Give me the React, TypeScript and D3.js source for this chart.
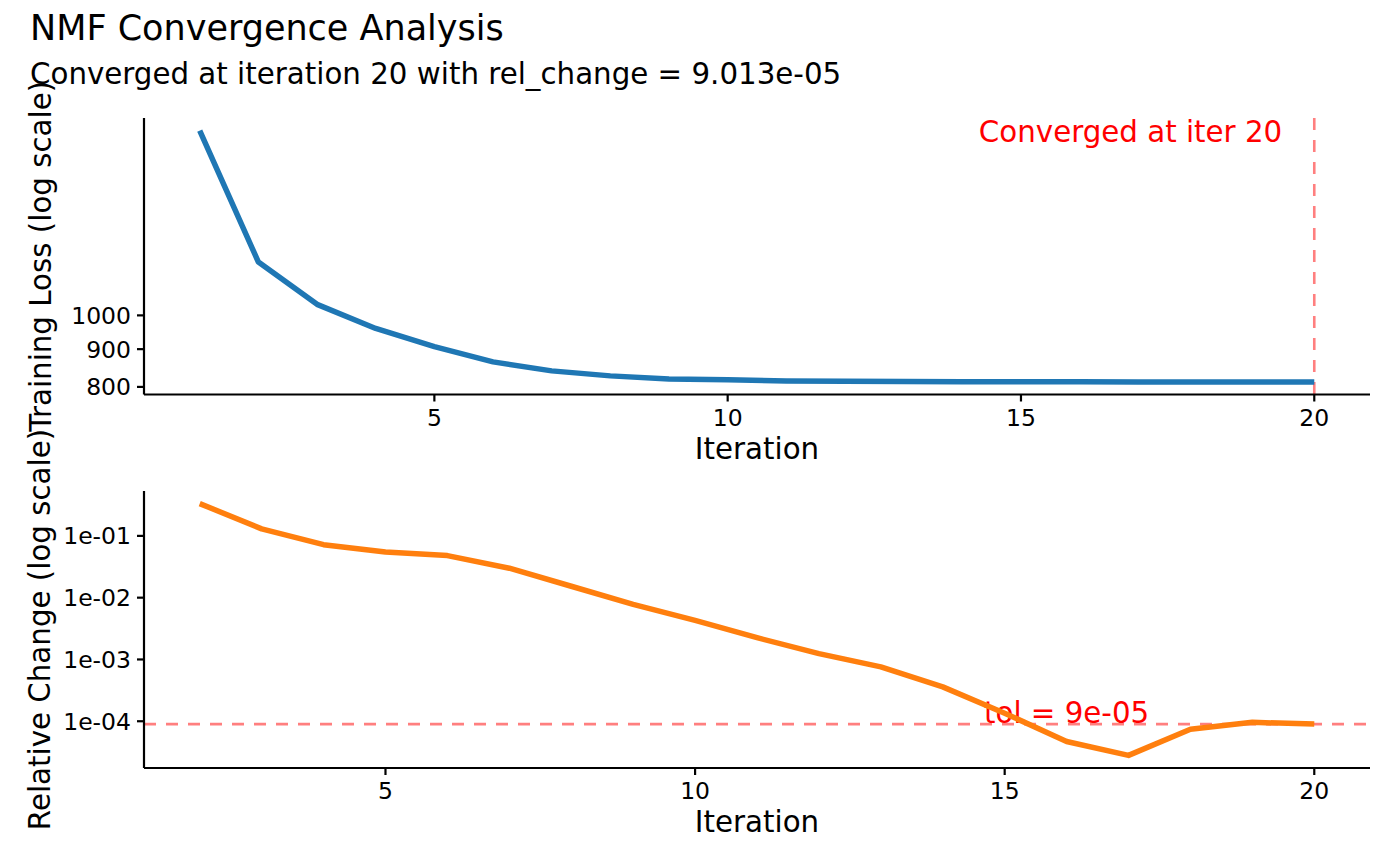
import * as d3 from "d3";

// values
const lossIter = d3.range(1, 21);
const lossValues = [1780, 1181, 1035, 960, 907, 865, 841, 828, 820, 818, 815, 814, 813.5, 813, 812.8, 812.7, 812.6, 812.6, 812.5, 812.5];

const changeIter = d3.range(2, 21);
const changeValues = [0.333, 0.13, 0.072, 0.055, 0.048, 0.03, 0.0153, 0.0078, 0.0043, 0.00225, 0.00124, 0.00076, 0.00036, 0.000135, 0.000047, 0.000028, 0.000074, 0.000096, 0.00009013];

const xTicks = [5, 10, 15, 20];
const lossTicks = [800, 900, 1000];
const changeTicks = [1e-1, 1e-2, 1e-3, 1e-4];
const changeTickLabels = ["1e-01", "1e-02", "1e-03", "1e-04"];

const tol = 9e-5;
const convergedIter = 20;

const FONT = "DejaVu Sans, sans-serif";
const W = 1400;
const H = 866;
const TICK_FS = 23.5;
const AXIS_FS = 29.3;

function expandLin(ext: [number, number]): [number, number] {
  const pad = (ext[1] - ext[0]) * 0.05;
  return [ext[0] - pad, ext[1] + pad];
}

function expandLog(ext: [number, number]): [number, number] {
  const lo = Math.log10(ext[0]);
  const hi = Math.log10(ext[1]);
  const pad = (hi - lo) * 0.05;
  return [Math.pow(10, lo - pad), Math.pow(10, hi + pad)];
}

interface PanelProps {
  iters: number[];
  values: number[];
  color: string;
  top: number;
  bottom: number;
  yTicks: number[];
  yLabels: string[];
  yTitle: string;
  yTitleX: number;
  children?: (x: d3.ScaleLinear<number, number>, y: d3.ScaleLogarithmic<number, number>) => any;
}

function Panel({ iters, values, color, top, bottom, yTicks, yLabels, yTitle, yTitleX, children }: PanelProps) {
  const left = 144;
  const right = 1370;
  const x = d3.scaleLinear().domain(expandLin(d3.extent(iters) as [number, number])).range([left, right]);
  const y = d3.scaleLog().domain(expandLog(d3.extent(values) as [number, number])).range([bottom, top]);
  const line = d3.line<number>().x((_, i) => x(iters[i])).y(d => y(d));

  return (
    <g>
      {children && children(x, y)}
      <path d={line(values) || ""} fill="none" stroke={color} strokeWidth={5.5} strokeLinejoin="round" />
      {/* axes */}
      <line x1={left} x2={right} y1={bottom} y2={bottom} stroke="#000" strokeWidth={2.2} />
      <line x1={left} x2={left} y1={top} y2={bottom} stroke="#000" strokeWidth={2.2} />
      {xTicks.map(t => (
        <g key={t} transform={`translate(${x(t)},${bottom})`}>
          <line y1={0} y2={7} stroke="#000" strokeWidth={2.2} />
          <text y={31} textAnchor="middle" fontSize={TICK_FS} fill="#000">{t}</text>
        </g>
      ))}
      {yTicks.map((t, i) => (
        <g key={t} transform={`translate(${left},${y(t)})`}>
          <line x1={-7} x2={0} stroke="#000" strokeWidth={2.2} />
          <text x={-13} dy="0.36em" textAnchor="end" fontSize={TICK_FS} fill="#000">{yLabels[i]}</text>
        </g>
      ))}
      <text x={(left + right) / 2} y={bottom + 64} textAnchor="middle" fontSize={AXIS_FS} fill="#000">Iteration</text>
      <text transform={`translate(${yTitleX},${(top + bottom) / 2}) rotate(-90)`} textAnchor="middle" fontSize={AXIS_FS} fill="#000">{yTitle}</text>
    </g>
  );
}

export default function App() {
  return (
    <div style={{ position: "absolute", left: 0, top: 0 }}>
      <svg width={W} height={H} fontFamily={FONT} style={{ display: "block", background: "#fff" }}>
        <rect width={W} height={H} fill="#fff" />
        <text x={30} y={40} fontSize={35} fill="#000">NMF Convergence Analysis</text>
        <text x={30} y={84} fontSize={29.3} fill="#000">Converged at iteration 20 with rel_change = 9.013e-05</text>

        <Panel
          iters={changeIter}
          values={changeValues}
          color="#ff7f0e"
          top={491}
          bottom={768}
          yTicks={changeTicks}
          yLabels={changeTickLabels}
          yTitle="Relative Change (log scale)"
          yTitleX={50}
        >
          {(x, y) => (
            <g>
              <line x1={144} x2={1370} y1={y(tol)} y2={y(tol)} stroke="#ff0000" strokeOpacity={0.5} strokeWidth={2.6} strokeDasharray="12 10" />
              <text x={x(16)} y={y(tol) - 1} textAnchor="middle" fontSize={AXIS_FS} fill="#ff0000">tol = 9e-05</text>
            </g>
          )}
        </Panel>

        <Panel
          iters={lossIter}
          values={lossValues}
          color="#1f77b4"
          top={118}
          bottom={394.5}
          yTicks={lossTicks}
          yLabels={lossTicks.map(String)}
          yTitle="Training Loss (log scale)"
          yTitleX={51}
        >
          {(x) => (
            <g>
              <line x1={x(convergedIter)} x2={x(convergedIter)} y1={118} y2={394.5} stroke="#ff0000" strokeOpacity={0.5} strokeWidth={2.6} strokeDasharray="12 10" />
              <text x={x(convergedIter) - 32} y={142} textAnchor="end" fontSize={AXIS_FS} fill="#ff0000">Converged at iter {convergedIter}</text>
            </g>
          )}
        </Panel>
      </svg>
    </div>
  );
}
